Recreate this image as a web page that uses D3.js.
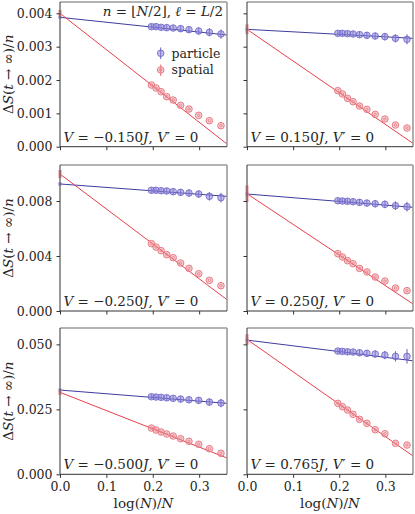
<!DOCTYPE html>
<html>
<head>
<meta charset="utf-8">
<script src="https://cdn.jsdelivr.net/npm/d3@7"></script>
<style>
  html, body { margin: 0; padding: 0; background: #fff; }
  svg text { font-family: "DejaVu Serif", serif; fill: #262626; }
</style>
</head>
<body>
<div id="vis"></div>
<script>
// log(N)/N for N = 13 ... 4
const xVals = [0.197, 0.207, 0.218, 0.230, 0.244, 0.260, 0.278, 0.299, 0.322, 0.347];
const xTicks = [0.0, 0.1, 0.2, 0.3];
const panelV = ['\u22120.150', '0.150', '\u22120.250', '0.250', '\u22120.500', '0.765'];

const particleVals = [
  [0.00360, 0.00360, 0.00358, 0.00357, 0.00356, 0.00354, 0.00351, 0.00347, 0.00343, 0.00338],
  [0.00340, 0.00340, 0.00339, 0.00338, 0.00336, 0.00334, 0.00332, 0.00330, 0.00325, 0.00322],
  [0.00878, 0.00878, 0.00875, 0.00873, 0.00868, 0.00863, 0.00858, 0.00851, 0.00834, 0.00824],
  [0.00802, 0.00800, 0.00798, 0.00795, 0.00790, 0.00785, 0.00780, 0.00776, 0.00766, 0.00759],
  [0.02985, 0.02973, 0.02962, 0.02946, 0.02923, 0.02896, 0.02869, 0.02846, 0.02780, 0.02742],
  [0.04742, 0.04730, 0.04715, 0.04704, 0.04677, 0.04654, 0.04627, 0.04588, 0.04538, 0.04538]
];
const particleErr = [
  [0.00008, 0.00008, 0.00008, 0.00009, 0.00009, 0.00010, 0.00010, 0.00011, 0.00012, 0.00014],
  [0.00008, 0.00008, 0.00008, 0.00009, 0.00009, 0.00010, 0.00010, 0.00011, 0.00012, 0.00015],
  [0.00020, 0.00020, 0.00021, 0.00022, 0.00023, 0.00024, 0.00026, 0.00028, 0.00031, 0.00035],
  [0.00020, 0.00020, 0.00021, 0.00022, 0.00023, 0.00024, 0.00026, 0.00028, 0.00031, 0.00035],
  [0.0010, 0.0010, 0.0010, 0.0011, 0.0011, 0.0012, 0.0012, 0.0013, 0.0014, 0.0016],
  [0.0010, 0.0010, 0.0011, 0.0011, 0.0012, 0.0013, 0.0014, 0.0016, 0.0020, 0.0028]
];
const spatialVals = [
  [0.00185, 0.00176, 0.00165, 0.00150, 0.00140, 0.00124, 0.00113, 0.00094, 0.00078, 0.00063],
  [0.00168, 0.00158, 0.00145, 0.00135, 0.00122, 0.00112, 0.00097, 0.00083, 0.00065, 0.00056],
  [0.00490, 0.00465, 0.00439, 0.00410, 0.00388, 0.00349, 0.00310, 0.00271, 0.00223, 0.00184],
  [0.00417, 0.00393, 0.00366, 0.00344, 0.00310, 0.00284, 0.00247, 0.00218, 0.00167, 0.00148],
  [0.01780, 0.01704, 0.01627, 0.01550, 0.01473, 0.01370, 0.01270, 0.01154, 0.00985, 0.00808],
  [0.02730, 0.02600, 0.02473, 0.02308, 0.02115, 0.01962, 0.01715, 0.01562, 0.01192, 0.01127]
];
// linear fits: value at log(N)/N = 0 and at 0.36
const particleFit = [[0.00388, 0.00335], [0.00352, 0.00325], [0.00924, 0.00834], [0.00851, 0.00754], [0.03242, 0.02730], [0.05165, 0.04369]];
const spatialFit  = [[0.00400, 0.00008], [0.00352, 0.00010], [0.00996, 0.00082], [0.00853, 0.00051], [0.03154, 0.00627], [0.05192, 0.00704]];
// extrapolated value errors at x = 0
const particleZeroErr = [0.00004, 0.00004, 0.00012, 0.00012, 0.0006, 0.0006];
const spatialZeroErr  = [0.00010, 0.00015, 0.00030, 0.00060, 0.0010, 0.0020];

const rowMax = [0.00434, 0.01062, 0.0563];
const rowTicks = [[0, 0.001, 0.002, 0.003, 0.004], [0, 0.004, 0.008], [0, 0.025, 0.05]];

const W = 415, H = 514;
const colX = [[60, 227], [247, 413]];
const rowY = [[2, 146.7], [165, 311], [328, 474.3]];

const blueLine = '#3f3c9f', blueMark = '#8c84d8', blueEdge = '#6a62c4';
const redLine = '#e6404b', redMark = '#f29ca3', redEdge = '#e3727b';
const fs = 12.5, fsBig = 13.5;
const serif = '"DejaVu Serif", serif';

const svg = d3.select('#vis').append('svg')
  .attr('width', W).attr('height', H)
  .attr('viewBox', `0 0 ${W} ${H}`);

function particleMarker(g, cx, cy, e0, e1){
  g.append('line').attr('x1', cx).attr('x2', cx).attr('y1', e0).attr('y2', e1)
    .attr('stroke', blueEdge).attr('stroke-width', 1);
  g.append('circle').attr('cx', cx).attr('cy', cy).attr('r', 3.3)
    .attr('fill', blueMark).attr('fill-opacity', 0.55)
    .attr('stroke', blueEdge).attr('stroke-width', 0.8);
}
function spatialMarker(g, cx, cy){
  g.append('circle').attr('cx', cx).attr('cy', cy).attr('r', 3.3)
    .attr('fill', redMark).attr('fill-opacity', 0.5)
    .attr('stroke', redEdge).attr('stroke-width', 0.9);
  g.append('circle').attr('cx', cx).attr('cy', cy).attr('r', 1.2)
    .attr('fill', 'none').attr('stroke', redEdge).attr('stroke-width', 0.7);
}

for (let p = 0; p < 6; p++){
  const r = Math.floor(p / 2), c = p % 2;
  const x = d3.scaleLinear().domain([0, 0.36]).range(colX[c]);
  const y = d3.scaleLinear().domain([0, rowMax[r]]).range([rowY[r][1], rowY[r][0]]);
  const g = svg.append('g');

  g.append('clipPath').attr('id', 'clip' + p).append('rect')
    .attr('x', colX[c][0]).attr('y', rowY[r][0])
    .attr('width', colX[c][1] - colX[c][0]).attr('height', rowY[r][1] - rowY[r][0]);
  const inner = g.append('g').attr('clip-path', `url(#clip${p})`);

  // fit lines
  inner.append('line')
    .attr('x1', x(0)).attr('y1', y(particleFit[p][0]))
    .attr('x2', x(0.36)).attr('y2', y(particleFit[p][1]))
    .attr('stroke', blueLine).attr('stroke-width', 1);
  inner.append('line')
    .attr('x1', x(0)).attr('y1', y(spatialFit[p][0]))
    .attr('x2', x(0.36)).attr('y2', y(spatialFit[p][1]))
    .attr('stroke', redLine).attr('stroke-width', 1);

  // data points
  xVals.forEach((xv, i) => {
    spatialMarker(inner, x(xv), y(spatialVals[p][i]));
    const v = particleVals[p][i], e = particleErr[p][i];
    particleMarker(inner, x(xv), y(v), y(v - e), y(v + e));
  });

  // extrapolated values at x = 0
  g.append('line').attr('x1', x(0)).attr('x2', x(0))
    .attr('y1', y(particleFit[p][0] - particleZeroErr[p])).attr('y2', y(particleFit[p][0] + particleZeroErr[p]))
    .attr('stroke', blueMark).attr('stroke-width', 3.5).attr('stroke-opacity', 0.7);
  g.append('line').attr('x1', x(0)).attr('x2', x(0))
    .attr('y1', y(spatialFit[p][0] - spatialZeroErr[p])).attr('y2', y(spatialFit[p][0] + spatialZeroErr[p]))
    .attr('stroke', redMark).attr('stroke-width', 3.5).attr('stroke-opacity', 0.8);

  // spines
  g.append('line').attr('x1', colX[c][0]).attr('x2', colX[c][1]).attr('y1', rowY[r][0]).attr('y2', rowY[r][0])
    .attr('stroke', '#9a9a9a').attr('stroke-width', 1.6);
  g.append('line').attr('x1', colX[c][1]).attr('x2', colX[c][1]).attr('y1', rowY[r][0]).attr('y2', rowY[r][1])
    .attr('stroke', '#9a9a9a').attr('stroke-width', 1.6);

  const xAxis = d3.axisBottom(x).tickValues(xTicks).tickSize(3.5).tickPadding(4)
    .tickFormat(r === 2 ? d3.format('.1f') : '');
  const yAxis = d3.axisLeft(y).tickValues(rowTicks[r]).tickSize(3.5).tickPadding(4)
    .tickFormat(c === 0 ? d3.format('.3f') : '');
  const gx = g.append('g').attr('transform', `translate(0,${rowY[r][1]})`).call(xAxis);
  const gy = g.append('g').attr('transform', `translate(${colX[c][0]},0)`).call(yAxis);
  [gx, gy].forEach(a => {
    a.attr('font-family', serif).attr('font-size', fs);
    a.select('.domain').attr('stroke', '#333').attr('stroke-width', 1).attr('d',
      a === gx ? `M${colX[c][0]},0H${colX[c][1]}` : `M0,${rowY[r][0]}V${rowY[r][1]}`);
    a.selectAll('.tick line').attr('stroke', '#333');
    a.selectAll('.tick text').attr('fill', '#262626');
  });

  // panel label
  const lab = g.append('text').attr('x', colX[c][0] + 3.5).attr('y', rowY[r][1] - 5).attr('font-size', fsBig);
  lab.append('tspan').attr('font-style', 'italic').text('V');
  lab.append('tspan').text(' = ' + panelV[p]);
  lab.append('tspan').attr('font-style', 'italic').text('J');
  lab.append('tspan').text(', ');
  lab.append('tspan').attr('font-style', 'italic').text('V');
  lab.append('tspan').text('\u2032 = 0');

  // y label
  if (c === 0){
    const cy = (rowY[r][0] + rowY[r][1]) / 2;
    const yl = g.append('text').attr('transform', `translate(12.5,${cy}) rotate(-90)`)
      .attr('text-anchor', 'middle').attr('font-size', fsBig);
    yl.append('tspan').text('\u0394');
    yl.append('tspan').attr('font-style', 'italic').text('S');
    yl.append('tspan').text('(');
    yl.append('tspan').attr('font-style', 'italic').text('t');
    yl.append('tspan').text(' \u2192 \u221E)/');
    yl.append('tspan').attr('font-style', 'italic').text('n');
  }
  // x label
  if (r === 2){
    const xl = g.append('text').attr('x', (colX[c][0] + colX[c][1]) / 2).attr('y', 508)
      .attr('text-anchor', 'middle').attr('font-size', fsBig);
    xl.append('tspan').text('log(');
    xl.append('tspan').attr('font-style', 'italic').text('N');
    xl.append('tspan').text(')/');
    xl.append('tspan').attr('font-style', 'italic').text('N');
  }

  // title and legend in the first panel
  if (p === 0){
    const t = g.append('text').attr('x', 223).attr('y', 16).attr('text-anchor', 'end').attr('font-size', fsBig);
    t.append('tspan').attr('font-style', 'italic').text('n');
    t.append('tspan').text(' = \u230A');
    t.append('tspan').attr('font-style', 'italic').text('N');
    t.append('tspan').text('/2\u230B, ');
    t.append('tspan').attr('font-style', 'italic').text('\u2113');
    t.append('tspan').text(' = ');
    t.append('tspan').attr('font-style', 'italic').text('L');
    t.append('tspan').text('/2');

    particleMarker(g, 160.7, 53.3, 47.5, 59);
    g.append('line').attr('x1', 160.7).attr('x2', 160.7).attr('y1', 64.5).attr('y2', 76)
      .attr('stroke', redEdge).attr('stroke-width', 1);
    spatialMarker(g, 160.7, 70);
    g.append('text').attr('x', 171.5).attr('y', 57.5).attr('font-size', fs).text('particle');
    g.append('text').attr('x', 171.5).attr('y', 74).attr('font-size', fs).text('spatial');
  }
}
</script>
</body>
</html>
